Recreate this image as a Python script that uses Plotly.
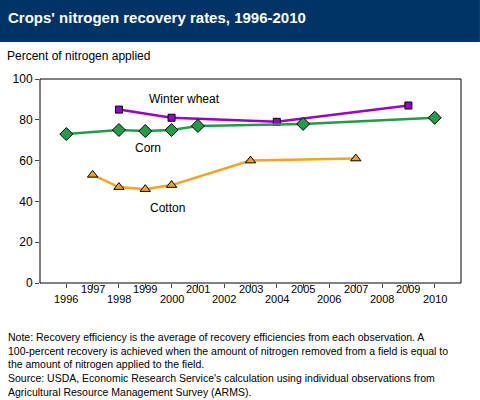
import plotly.graph_objects as go

wheat_years = [1998, 2000, 2004, 2009]
wheat_vals = [85, 81, 79, 87]
corn_years = [1996, 1998, 1999, 2000, 2001, 2005, 2010]
corn_vals = [73, 75, 74.5, 75, 77, 78, 81]
cotton_years = [1997, 1998, 1999, 2000, 2003, 2007]
cotton_vals = [53, 47, 46, 48, 60, 61]
tick_years = list(range(1996, 2011))
y_ticks = [0, 20, 40, 60, 80, 100]

fig = go.Figure()
fig.add_trace(go.Scatter(x=wheat_years, y=wheat_vals, mode='lines+markers',
                         line=dict(color='#9900cc', width=2.5),
                         marker=dict(symbol='square', size=7, color='#9900cc',
                                     line=dict(color='black', width=1))))
fig.add_trace(go.Scatter(x=corn_years, y=corn_vals, mode='lines+markers',
                         line=dict(color='#1f9e46', width=2.5),
                         marker=dict(symbol='diamond', size=10, color='#1f9e46',
                                     line=dict(color='black', width=1))))
fig.add_trace(go.Scatter(x=cotton_years, y=cotton_vals, mode='lines+markers',
                         line=dict(color='#f7a21b', width=2.5),
                         marker=dict(symbol='triangle-up', size=9, color='#f7a21b',
                                     line=dict(color='black', width=1))))

font = dict(family='Liberation Sans, Arial', size=12, color='black')

# staggered year labels: odd years top row, even years bottom row
for yr in tick_years:
    fig.add_annotation(x=yr, y=0, yref='paper', text=str(yr), showarrow=False,
                       yshift=-14 if yr % 2 else -24, font=dict(family=font['family'], size=11))

fig.add_annotation(x=2000.5, y=90, text='Winter wheat', showarrow=False, font=font)
fig.add_annotation(x=1999.1, y=66, text='Corn', showarrow=False, font=font)
fig.add_annotation(x=1999.85, y=37, text='Cotton', showarrow=False, font=font)

fig.add_annotation(x=0.0, xref='paper', xanchor='left', y=-0.225, yref='paper', yanchor='top',
                   align='left', showarrow=False, xshift=-34,
                   text='Note: Recovery efficiency is the average of recovery efficiencies from each observation. A<br>'
                        '100-percent recovery is achieved when the amount of nitrogen removed from a field is equal to<br>'
                        'the amount of nitrogen applied to the field.<br>'
                        "Source: USDA, Economic Research Service's calculation using individual observations from<br>"
                        'Agricultural Resource Management Survey (ARMS).',
                   font=dict(family=font['family'], size=10.5))

fig.update_layout(
    width=480, height=400, showlegend=False,
    paper_bgcolor='white', plot_bgcolor='white',
    margin=dict(l=40, r=19, t=79, b=117),
    font=font,
    xaxis=dict(range=[1995, 2011], tickvals=tick_years, showticklabels=False,
               ticks='outside', ticklen=4, showgrid=False, zeroline=False),
    yaxis=dict(range=[0, 100], tickvals=y_ticks, ticks='outside', ticklen=4,
               showgrid=False, zeroline=False, tickfont=dict(size=12)),
    shapes=[
        dict(type='rect', xref='paper', yref='paper', x0=0, x1=1, y0=0, y1=1, line=dict(color='black', width=1)),
        dict(type='rect', xref='paper', yref='paper', x0=-0.095, x1=1.045, y0=1.181, y1=1.39,
             fillcolor='#003366', line=dict(width=0), layer='below'),
    ],
)
fig.add_annotation(x=0, xref='paper', xanchor='left', xshift=-34, y=1.30, yref='paper', yanchor='middle',
                   text="<b>Crops' nitrogen recovery rates, 1996-2010</b>", showarrow=False,
                   font=dict(family=font['family'], size=15, color='white'))
fig.add_annotation(x=0, xref='paper', xanchor='left', xshift=-35, y=1.07, yref='paper', yanchor='bottom',
                   text='Percent of nitrogen applied', showarrow=False, font=font)

fig.write_html('out.html', config={'displayModeBar': False},
               post_script="document.body.style.margin='0';")
